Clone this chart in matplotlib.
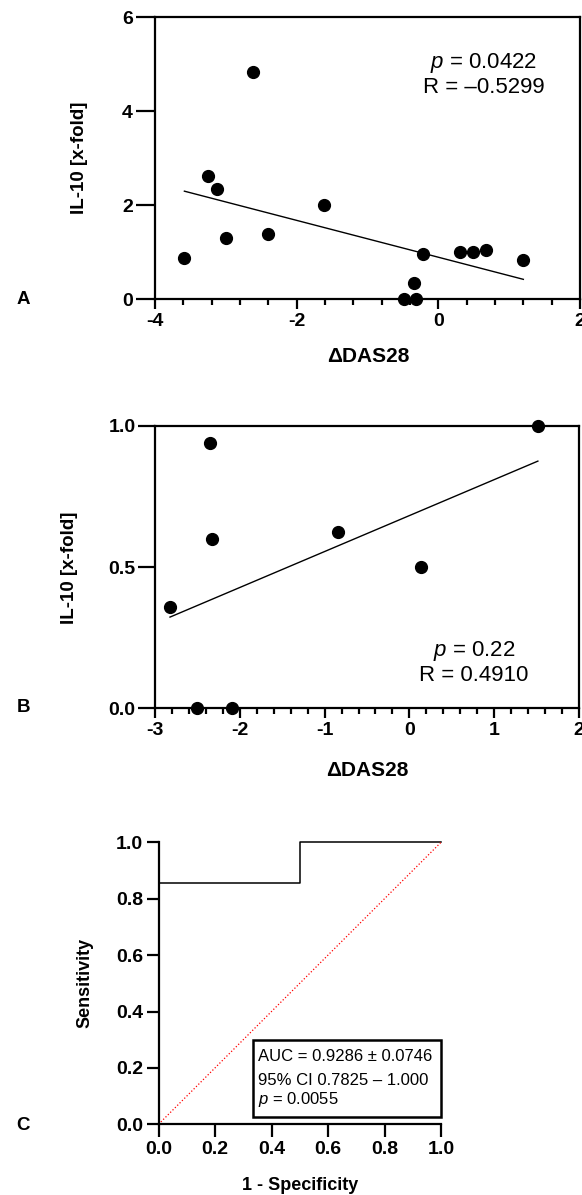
import numpy as np
import matplotlib
matplotlib.use("Agg")
import matplotlib.pyplot as plt
from matplotlib.ticker import MultipleLocator, FormatStrFormatter
from matplotlib.patches import Rectangle

plt.rcParams["font.family"] = ["Liberation Sans", "DejaVu Sans"]
plt.rcParams["font.weight"] = "bold"
plt.rcParams["axes.unicode_minus"] = False
plt.rcParams["mathtext.fontset"] = "custom"
plt.rcParams["mathtext.rm"] = "Liberation Sans:weight=normal"
plt.rcParams["mathtext.it"] = "Liberation Sans:style=italic:weight=normal"

# panel A: delta DAS28 vs IL-10
a_das = [-3.585, -3.255, -3.12, -3.0, -2.62, -2.41, -1.62, -0.49, -0.35, -0.31, -0.21, 0.30, 0.49, 0.67, 1.20]
a_il10 = [0.87, 2.62, 2.33, 1.29, 4.84, 1.38, 2.01, 0.0, 0.33, 0.0, 0.95, 1.01, 1.01, 1.04, 0.83]
a_text = "$p$ = 0.0422\nR = \u20130.5299"

# panel B
b_das = [-2.823, -2.51, -2.35, -2.325, -2.09, -0.84, 0.132, 1.515]
b_il10 = [0.36, 0.0, 0.938, 0.598, 0.0, 0.624, 0.499, 1.0]
b_text = "$p$ = 0.22\nR = 0.4910"

# panel C: ROC curve
roc_fpr = [0.0, 0.0, 0.5, 0.5, 1.0]
roc_tpr = [0.0, 0.857, 0.857, 1.0, 1.0]
roc_lines = ["AUC = 0.9286 \u00b1 0.0746", "95% CI 0.7825 \u2013 1.000", "$p$ = 0.0055"]

W, H = 582, 1195
fig = plt.figure(figsize=(W / 100, H / 100), dpi=100)


def fpos(x, y):
    return x / W, 1 - y / H


def style(ax, box=True, ylen=10):
    for s in ax.spines.values():
        s.set_linewidth(1.6)
    if not box:
        ax.spines["top"].set_visible(False)
        ax.spines["right"].set_visible(False)
    ax.tick_params(which="major", direction="out", width=1.6, length=7, labelsize=14, pad=3)
    ax.tick_params(which="minor", direction="out", width=1.6, length=4)
    ax.tick_params(axis="y", which="major", length=ylen, pad=2)


def scatter_fit(ax, x, y):
    ax.plot(x, y, "o", color="black", ms=8.5, clip_on=False, zorder=5)
    slope, icpt = np.polyfit(x, y, 1)
    xs = np.array([min(x), max(x)])
    ax.plot(xs, slope * xs + icpt, color="black", lw=1.0)


# ---- A
axA = fig.add_axes([155 / W, 1 - 299 / H, 425 / W, 282 / H])
scatter_fit(axA, a_das, a_il10)
axA.set_xlim(-4, 2)
axA.set_ylim(0, 6)
axA.xaxis.set_major_locator(MultipleLocator(2))
axA.xaxis.set_minor_locator(MultipleLocator(0.4))
axA.yaxis.set_major_locator(MultipleLocator(2))
axA.xaxis.set_major_formatter(FormatStrFormatter("%d"))
axA.yaxis.set_major_formatter(FormatStrFormatter("%d"))
style(axA, ylen=14)
axA.text(0.64, 4.78, a_text, ha="center", va="center", fontsize=16, fontweight="normal", linespacing=1.1)

# ---- B
axB = fig.add_axes([155 / W, 1 - 708.3 / H, 424 / W, 282.6 / H])
scatter_fit(axB, b_das, b_il10)
axB.set_xlim(-3, 2)
axB.set_ylim(0, 1)
axB.xaxis.set_major_locator(MultipleLocator(1))
axB.xaxis.set_minor_locator(MultipleLocator(0.2))
axB.yaxis.set_major_locator(MultipleLocator(0.5))
axB.xaxis.set_major_formatter(FormatStrFormatter("%d"))
axB.yaxis.set_major_formatter(FormatStrFormatter("%.1f"))
style(axB, ylen=12)
axB.text(0.76, 0.162, b_text, ha="center", va="center", fontsize=16, fontweight="normal", linespacing=1.1)

# ---- C
axC = fig.add_axes([158.5 / W, 1 - 1124.3 / H, 282.5 / W, 282 / H])
axC.plot(roc_fpr, roc_tpr, color="black", lw=1.1, clip_on=False)
axC.plot([0, 1], [0, 1], color="red", ls=":", lw=0.9)
axC.set_xlim(0, 1)
axC.set_ylim(0, 1)
axC.xaxis.set_major_locator(MultipleLocator(0.2))
axC.yaxis.set_major_locator(MultipleLocator(0.2))
axC.xaxis.set_major_formatter(FormatStrFormatter("%.1f"))
axC.yaxis.set_major_formatter(FormatStrFormatter("%.1f"))
style(axC, box=False, ylen=9)
axC.tick_params(axis="x", which="major", length=9)
axC.add_patch(Rectangle((0.333, 0.027), 0.667, 0.273, fill=False, lw=1.8, ec="black", clip_on=False))
for yy, line in zip([0.242, 0.157, 0.087], roc_lines):
    axC.text(0.352, yy, line, ha="left", va="center", fontsize=12, fontweight="normal")

# axis labels and panel letters
fig.text(*fpos(80, 158), "IL-10 [x-fold]", rotation=90, ha="center", va="center", fontsize=13.5)
fig.text(*fpos(368, 357), "\u0394DAS28", ha="center", va="center", fontsize=15)
fig.text(*fpos(70, 568), "IL-10 [x-fold]", rotation=90, ha="center", va="center", fontsize=13.5)
fig.text(*fpos(367, 770), "\u0394DAS28", ha="center", va="center", fontsize=15)
fig.text(*fpos(85, 983), "Sensitivity", rotation=90, ha="center", va="center", fontsize=13)
fig.text(*fpos(300, 1185), "1 - Specificity", ha="center", va="center", fontsize=13)
fig.text(*fpos(23, 300), "A", ha="center", va="center", fontsize=13.5)
fig.text(*fpos(23, 708), "B", ha="center", va="center", fontsize=13.5)
fig.text(*fpos(23, 1125), "C", ha="center", va="center", fontsize=13.5)

fig.savefig("out.png", dpi=100)
